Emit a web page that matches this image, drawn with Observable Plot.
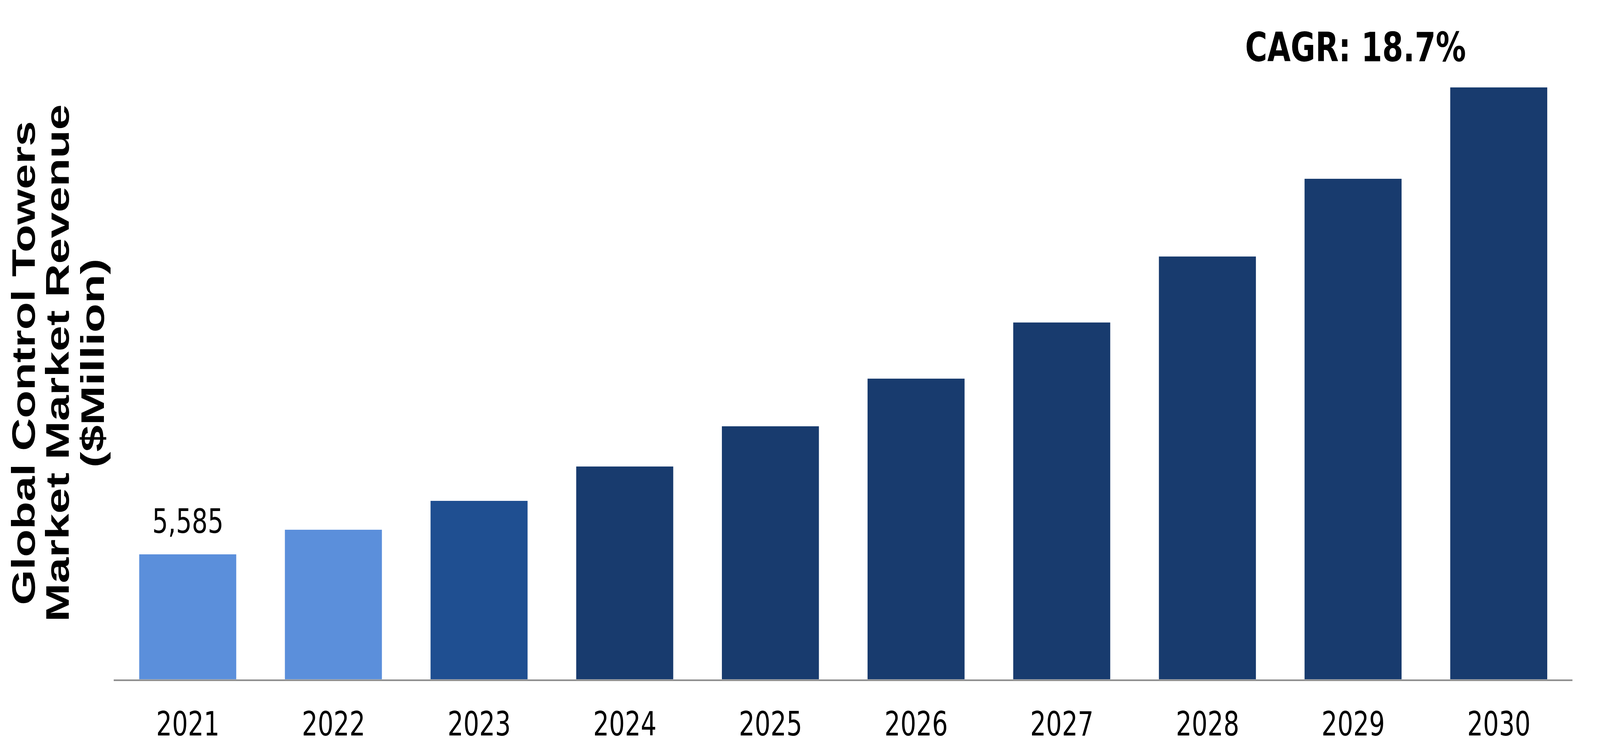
<!DOCTYPE html>
<html>
<head>
<meta charset="utf-8">
<script src="https://cdn.jsdelivr.net/npm/d3@7"></script>
<script src="https://cdn.jsdelivr.net/npm/@observablehq/plot@0.6"></script>
<style>
  html, body { margin: 0; padding: 0; background: #ffffff; overflow: hidden; }
  #chart svg { display: block; }
</style>
</head>
<body>
<div id="chart"></div>
<script>
const years = ["2021","2022","2023","2024","2025","2026","2027","2028","2029","2030"];
const revenue = [5585, 6685, 7976, 9512, 11310, 13440, 15950, 18900, 22375, 26460];
const barColors = ["#5B8FDB","#5B8FDB","#1F4F91","#183B6E","#183B6E","#183B6E","#183B6E","#183B6E","#183B6E","#183B6E"];
const valueLabels = ["5,585","","","","","","","","",""];
const cagrText = "CAGR: 18.7%";
const titleLines = ["Global Control Towers", "Market Market Revenue", "($Million)"];

const data = years.map((y, i) => ({year: y, value: revenue[i], color: barColors[i], label: valueLabels[i]}));

const W = 5459, H = 1934;
const chart = Plot.plot({
  width: W,
  height: H,
  marginLeft: 388,
  marginRight: 94,
  marginTop: 0,
  marginBottom: 194,
  style: {fontFamily: "DejaVu Sans, Verdana, sans-serif", background: "#ffffff", color: "#000000"},
  x: {type: "band", domain: years, paddingInner: 0.335, paddingOuter: 0.168, label: null},
  y: {domain: [0, 30368], axis: null},
  color: {type: "identity"},
  marks: [
    Plot.barY(data, {x: "year", y: "value", fill: "color"}),
    Plot.ruleY([0], {stroke: "#898989", strokeWidth: 4, dy: 2}),
    Plot.text(data.filter(d => d.label), {x: "year", y: "value", text: "label", lineAnchor: "bottom", dy: -55, fontSize: 85, fill: "#000000"}),
    Plot.text([{year: "2029", t: cagrText}], {x: "year", y: () => 27628, text: "t", lineAnchor: "bottom", fontSize: 103, fontWeight: "bold", fill: "#000000", dx: 8}),
    Plot.axisX({tickSize: 0, tickPadding: 83, fontSize: 85, label: null, fill: "#000000"})
  ]
});

const svg = d3.select(chart);
const titleX = [118, 235, 354];
const titleLen = [1240, 1326, 536];
const g = svg.append("g").attr("font-family", "Liberation Sans, Arial, sans-serif").attr("font-weight", "bold").attr("font-size", 110).attr("fill", "#000000");
titleLines.forEach((t, i) => {
  g.append("text")
    .attr("transform", `translate(${titleX[i]},930) rotate(-90)`)
    .attr("text-anchor", "middle")
    .attr("textLength", titleLen[i])
    .attr("lengthAdjust", "spacingAndGlyphs")
    .text(t);
});

// Fit the 5459×1934 drawing to the actual window (the viewport may be narrower).
chart.setAttribute("preserveAspectRatio", "none");
chart.style.maxWidth = "none";
chart.style.width = (window.innerWidth || W) + "px";
chart.style.height = (window.innerHeight || H) + "px";

document.getElementById("chart").appendChild(chart);
</script>
</body>
</html>
